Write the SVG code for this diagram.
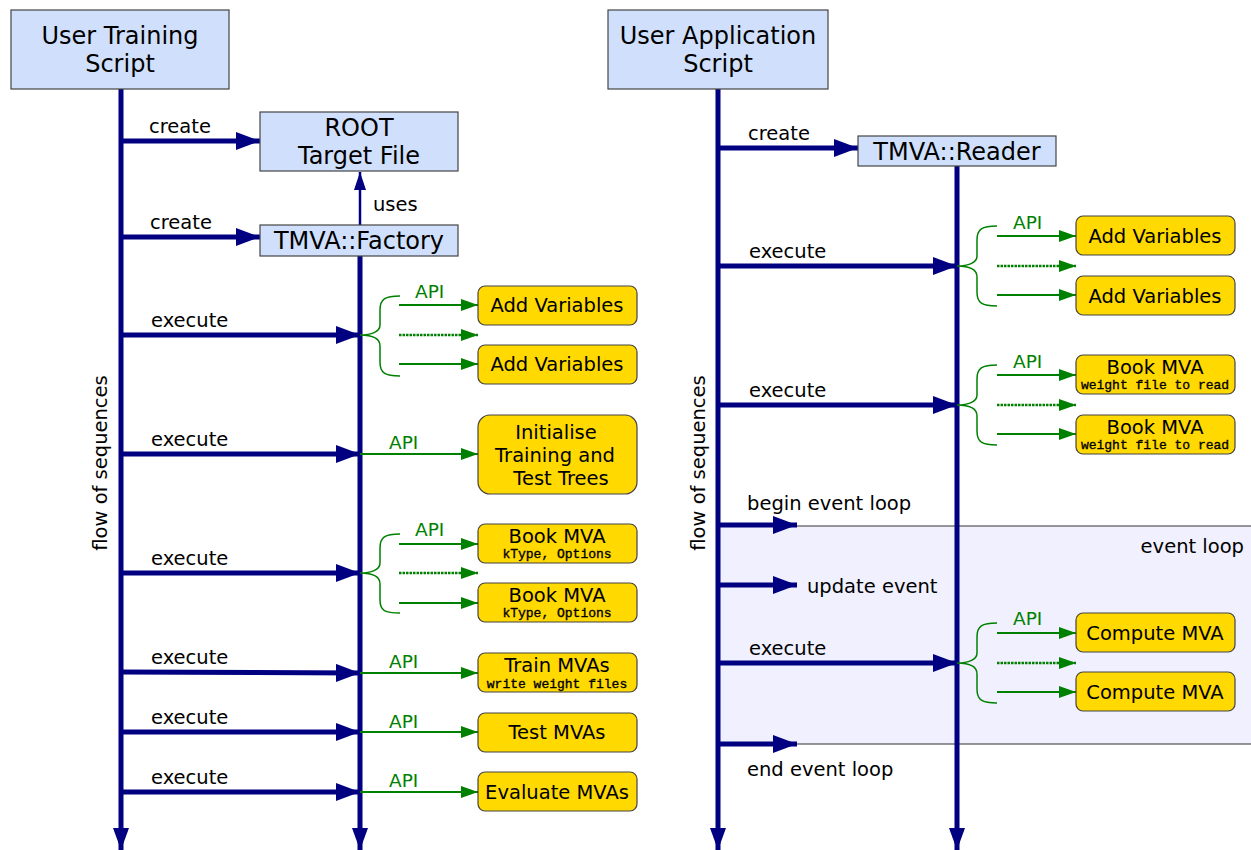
<svg xmlns="http://www.w3.org/2000/svg" width="1251" height="850" viewBox="0 0 1251 850">
<defs>
<style>
text{font-family:"DejaVu Sans","Liberation Sans",sans-serif;fill:#000}
.blue{fill:#d0e0fc;stroke:#444;stroke-width:1.2}
.yel{fill:#ffd900;stroke:#444;stroke-width:1.2}
.t23{font-size:24px;text-anchor:middle}
.t18{font-size:19.5px;text-anchor:middle}
.lbl{font-size:19.5px}
.api{font-size:18.5px;fill:#008000}
.mono{font-family:"Liberation Mono","DejaVu Sans Mono",monospace;font-size:13px;text-anchor:middle;stroke:#000;stroke-width:0.35}
.life{stroke:#000080;stroke-width:5;fill:none;marker-end:url(#navyDown)}
.nav{stroke:#000080;stroke-width:5;fill:none;marker-end:url(#navyHead)}
.grn{stroke:#008000;stroke-width:2;fill:none;marker-end:url(#greenHead)}
.dot{stroke:#008000;stroke-width:2.5;fill:none;stroke-dasharray:2.5 1;marker-end:url(#greenHead)}
.brace{stroke:#008000;stroke-width:1.5;fill:none}
</style>
<marker id="navyHead" markerUnits="userSpaceOnUse" markerWidth="24" markerHeight="18" refX="24" refY="9" orient="auto"><path d="M0,0 L24,9 L0,18 Z" fill="#000080"/></marker>
<marker id="navyDown" markerUnits="userSpaceOnUse" markerWidth="22" markerHeight="16" refX="22" refY="8" orient="auto"><path d="M0,0 L22,8 L0,16 Z" fill="#000080"/></marker>
<marker id="navySmall" markerUnits="userSpaceOnUse" markerWidth="18" markerHeight="12" refX="18" refY="6" orient="auto"><path d="M0,0 L18,6 L0,12 Z" fill="#000080"/></marker>
<marker id="greenHead" markerUnits="userSpaceOnUse" markerWidth="17" markerHeight="12" refX="17" refY="6" orient="auto"><path d="M0,0 L17,6 L0,12 Z" fill="#008000"/></marker>
</defs>

<!-- event loop region -->
<g id="event-loop">
<rect x="718" y="526" width="540" height="218" fill="#f0f0fe"/>
<line x1="795" y1="526" x2="1251" y2="526" stroke="#333" stroke-width="1.2"/>
<line x1="795" y1="744" x2="1251" y2="744" stroke="#333" stroke-width="1.2"/>
<text x="1244" y="553" class="lbl" text-anchor="end">event loop</text>
</g>

<g id="connectors">
<!-- lifelines -->
<line class="life" x1="121" y1="89" x2="121" y2="850"/>
<line class="life" x1="360" y1="256" x2="360" y2="850"/>
<line class="life" x1="718" y1="89" x2="718" y2="850"/>
<line class="life" x1="957" y1="166" x2="957" y2="850"/>

<!-- left side -->
<line class="nav" x1="121" y1="141" x2="260" y2="141"/>
<text x="180" y="133" class="lbl" text-anchor="middle">create</text>
<line class="nav" x1="121" y1="237" x2="260" y2="237"/>
<text x="181" y="229" class="lbl" text-anchor="middle">create</text>
<line x1="360" y1="225" x2="360" y2="172" stroke="#000080" stroke-width="2.5" marker-end="url(#navySmall)"/>
<text x="373" y="211" class="lbl">uses</text>

<line class="nav" x1="121" y1="335" x2="360" y2="335"/>
<text x="151" y="327" class="lbl">execute</text>
<line class="nav" x1="121" y1="454" x2="360" y2="454"/>
<text x="151" y="446" class="lbl">execute</text>
<line class="nav" x1="121" y1="573" x2="360" y2="573"/>
<text x="151" y="565" class="lbl">execute</text>
<line class="nav" x1="121" y1="672" x2="360" y2="673"/>
<text x="151" y="664" class="lbl">execute</text>
<line class="nav" x1="121" y1="732" x2="360" y2="732"/>
<text x="151" y="724" class="lbl">execute</text>
<line class="nav" x1="121" y1="792" x2="360" y2="792"/>
<text x="151" y="784" class="lbl">execute</text>

<!-- left brace 1 -->
<path class="brace" d="M400,296 C385,296 380,299 380,310 L380,325 C380,332 371,335 360,335 C371,335 380,338 380,346 L380,362 C380,373 385,376 400,376"/>
<text x="415" y="298" class="api">API</text>
<line class="grn" x1="399" y1="305" x2="478" y2="305"/>
<line class="dot" x1="399" y1="335" x2="478" y2="335"/>
<line class="grn" x1="399" y1="364" x2="478" y2="364"/>

<text x="389" y="449" class="api">API</text>
<line class="grn" x1="360" y1="454" x2="478" y2="454"/>

<!-- left brace 2 -->
<path class="brace" d="M400,534 C385,534 380,537 380,548 L380,563 C380,570 371,573 360,573 C371,573 380,576 380,584 L380,600 C380,611 385,613 400,613"/>
<text x="415" y="536" class="api">API</text>
<line class="grn" x1="399" y1="544" x2="478" y2="544"/>
<line class="dot" x1="399" y1="573" x2="478" y2="573"/>
<line class="grn" x1="399" y1="603" x2="478" y2="603"/>

<text x="389" y="668" class="api">API</text>
<line class="grn" x1="360" y1="673" x2="478" y2="673"/>
<text x="389" y="728" class="api">API</text>
<line class="grn" x1="360" y1="732" x2="478" y2="732"/>
<text x="389" y="787" class="api">API</text>
<line class="grn" x1="360" y1="792" x2="478" y2="792"/>

<!-- right side -->
<line class="nav" x1="718" y1="148" x2="858" y2="148"/>
<text x="779" y="140" class="lbl" text-anchor="middle">create</text>

<line class="nav" x1="718" y1="266" x2="957" y2="266"/>
<text x="749" y="258" class="lbl">execute</text>
<path class="brace" d="M997,226 C982,226 977,229 977,240 L977,256 C977,263 968,266 957,266 C968,266 977,269 977,277 L977,292 C977,303 982,306 997,306"/>
<text x="1013" y="229" class="api">API</text>
<line class="grn" x1="997" y1="236" x2="1076" y2="236"/>
<line class="dot" x1="997" y1="266" x2="1076" y2="266"/>
<line class="grn" x1="997" y1="295" x2="1076" y2="295"/>

<line class="nav" x1="718" y1="405" x2="957" y2="405"/>
<text x="749" y="397" class="lbl">execute</text>
<path class="brace" d="M997,365 C982,365 977,368 977,379 L977,395 C977,402 968,405 957,405 C968,405 977,408 977,416 L977,431 C977,442 982,445 997,445"/>
<text x="1013" y="368" class="api">API</text>
<line class="grn" x1="997" y1="375" x2="1076" y2="375"/>
<line class="dot" x1="997" y1="405" x2="1076" y2="405"/>
<line class="grn" x1="997" y1="434" x2="1076" y2="434"/>

<line class="nav" x1="718" y1="525" x2="797" y2="525"/>
<text x="747" y="510" class="lbl">begin event loop</text>
<line class="nav" x1="718" y1="585" x2="797" y2="585"/>
<text x="807" y="593" class="lbl">update event</text>

<line class="nav" x1="718" y1="663" x2="957" y2="663"/>
<text x="749" y="655" class="lbl">execute</text>
<path class="brace" d="M997,623 C982,623 977,626 977,637 L977,653 C977,660 968,663 957,663 C968,663 977,666 977,674 L977,689 C977,700 982,703 997,703"/>
<text x="1013" y="625" class="api">API</text>
<line class="grn" x1="997" y1="633" x2="1076" y2="633"/>
<line class="dot" x1="997" y1="663" x2="1076" y2="663"/>
<line class="grn" x1="997" y1="692" x2="1076" y2="692"/>

<line class="nav" x1="718" y1="744" x2="797" y2="744"/>
<text x="747" y="776" class="lbl">end event loop</text>
</g>

<text class="lbl" text-anchor="middle" transform="translate(107,463) rotate(-90)">flow of sequences</text>
<text class="lbl" text-anchor="middle" transform="translate(705,463) rotate(-90)">flow of sequences</text>

<g id="user-training-script"><rect class="blue" x="11" y="10" width="218" height="79"/><text x="120" y="44" class="t23">User Training</text><text x="120" y="72" class="t23">Script</text></g>
<g id="root-target-file"><rect class="blue" x="260" y="112" width="198" height="59"/><text x="359" y="136" class="t23">ROOT</text><text x="359" y="164" class="t23">Target File</text></g>
<g id="tmva-factory"><rect class="blue" x="260" y="225" width="198" height="31"/><text x="359" y="249" class="t23">TMVA::Factory</text></g>
<g id="user-application-script"><rect class="blue" x="608" y="10" width="220" height="79"/><text x="718" y="44" class="t23">User Application</text><text x="718" y="72" class="t23">Script</text></g>
<g id="tmva-reader"><rect class="blue" x="858" y="136" width="198" height="30"/><text x="957" y="160" class="t23">TMVA::Reader</text></g>

<g id="add-variables-1"><rect class="yel" x="478" y="286" width="159" height="39" rx="7"/><text x="557" y="312" class="t18">Add Variables</text></g>
<g id="add-variables-2"><rect class="yel" x="478" y="345" width="159" height="39" rx="7"/><text x="557" y="371" class="t18">Add Variables</text></g>
<g id="initialise"><rect class="yel" x="478" y="415" width="159" height="79" rx="12"/><text x="556" y="439" class="t18">Initialise</text><text x="555" y="462" class="t18">Training and</text><text x="561" y="485" class="t18">Test Trees</text></g>
<g id="book-mva-1"><rect class="yel" x="478" y="524" width="159" height="39" rx="7"/><text x="557" y="543" class="t18">Book MVA</text><text x="557" y="558" class="mono">kType, Options</text></g>
<g id="book-mva-2"><rect class="yel" x="478" y="583" width="159" height="39" rx="7"/><text x="557" y="602" class="t18">Book MVA</text><text x="557" y="617" class="mono">kType, Options</text></g>
<g id="train-mvas"><rect class="yel" x="478" y="653" width="159" height="39" rx="7"/><text x="557" y="672" class="t18">Train MVAs</text><text x="557" y="688" class="mono">write weight files</text></g>
<g id="test-mvas"><rect class="yel" x="478" y="713" width="159" height="39" rx="7"/><text x="557" y="739" class="t18">Test MVAs</text></g>
<g id="evaluate-mvas"><rect class="yel" x="478" y="772" width="159" height="39" rx="7"/><text x="557" y="799" class="t18">Evaluate MVAs</text></g>

<g id="r-add-variables-1"><rect class="yel" x="1076" y="216" width="159" height="39" rx="7"/><text x="1155" y="243" class="t18">Add Variables</text></g>
<g id="r-add-variables-2"><rect class="yel" x="1076" y="276" width="159" height="39" rx="7"/><text x="1155" y="303" class="t18">Add Variables</text></g>
<g id="r-book-mva-1"><rect class="yel" x="1076" y="355" width="159" height="39" rx="7"/><text x="1155" y="374" class="t18">Book MVA</text><text x="1155" y="389" class="mono">weight file to read</text></g>
<g id="r-book-mva-2"><rect class="yel" x="1076" y="415" width="159" height="39" rx="7"/><text x="1155" y="434" class="t18">Book MVA</text><text x="1155" y="449" class="mono">weight file to read</text></g>
<g id="compute-mva-1"><rect class="yel" x="1076" y="613" width="159" height="39" rx="7"/><text x="1155" y="640" class="t18">Compute MVA</text></g>
<g id="compute-mva-2"><rect class="yel" x="1076" y="672" width="159" height="39" rx="7"/><text x="1155" y="699" class="t18">Compute MVA</text></g>
</svg>
